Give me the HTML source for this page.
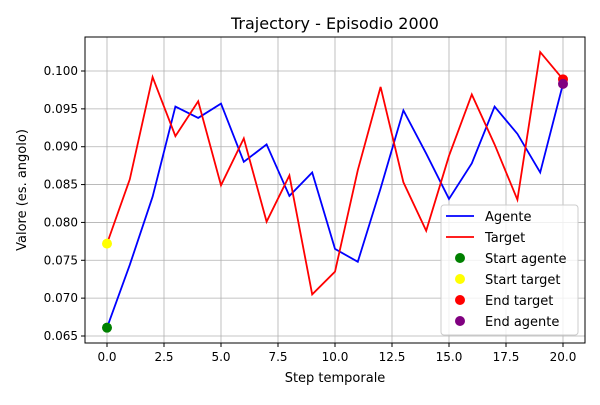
<!DOCTYPE html>
<html><head><meta charset="utf-8"><style>
body{margin:0;background:#fff}
svg{font-family:"DejaVu Sans","Liberation Sans",sans-serif}
</style></head><body>
<svg id="chart" width="600" height="400">
<text x="335" y="29" font-size="16" text-anchor="middle">Trajectory - Episodio 2000</text>
<g id="grid"></g>
<g id="series"></g>
<rect x="85" y="37" width="500" height="306" fill="none" stroke="#000" stroke-width="1"/>
<g id="ticks" font-size="12"></g>
<text x="335" y="382" font-size="13" text-anchor="middle">Step temporale</text>
<text transform="translate(26,190) rotate(-90)" font-size="13" text-anchor="middle">Valore (es. angolo)</text>
<g id="legend" font-size="13"></g>
</svg>
<script>
const steps=[0,1,2,3,4,5,6,7,8,9,10,11,12,13,14,15,16,17,18,19,20];
const agente=[0.0661,0.0744,0.0834,0.0953,0.0938,0.0957,0.0880,0.0903,0.0835,0.0866,0.0765,0.0748,0.0845,0.0948,0.0891,0.0831,0.0878,0.0953,0.0917,0.0866,0.0983];
const target=[0.0772,0.0857,0.0992,0.0914,0.0960,0.0849,0.0911,0.0801,0.0862,0.0705,0.0735,0.0869,0.0979,0.0853,0.0789,0.0888,0.0969,0.0903,0.0830,0.1025,0.0989];
const xTicks=[0,2.5,5,7.5,10,12.5,15,17.5,20];
const xTickLabels=["0.0","2.5","5.0","7.5","10.0","12.5","15.0","17.5","20.0"];
const yTicks=[0.065,0.070,0.075,0.080,0.085,0.090,0.095,0.100];
const yTickLabels=["0.065","0.070","0.075","0.080","0.085","0.090","0.095","0.100"];
const NS="http://www.w3.org/2000/svg";
const X=v=>107+v*22.8;
const Y=v=>336-(v-0.065)/0.005*37.857;
function mk(tag,attrs,parent){const e=document.createElementNS(NS,tag);for(const k in attrs)e.setAttribute(k,attrs[k]);parent.appendChild(e);return e;}
const grid=document.getElementById('grid'),ticks=document.getElementById('ticks'),series=document.getElementById('series'),legend=document.getElementById('legend');
xTicks.forEach((t,i)=>{
 const g=mk('line',{x1:X(t),x2:X(t),y1:37,y2:343,stroke:'#b0b0b0','stroke-width':0.8},grid);
 
 
 mk('line',{x1:X(t),x2:X(t),y1:343,y2:347,stroke:'#000'},ticks);
 const tx=mk('text',{x:X(t),y:361,'text-anchor':'middle'},ticks);tx.textContent=xTickLabels[i];
 
 
});
yTicks.forEach((t,i)=>{
 const g=mk('line',{x1:85,x2:585,y1:Y(t),y2:Y(t),stroke:'#b0b0b0','stroke-width':0.8},grid);
 
 
 mk('line',{x1:81,x2:85,y1:Y(t),y2:Y(t),stroke:'#000'},ticks);
 const tx=mk('text',{x:78,y:Y(t)+4,'text-anchor':'end'},ticks);tx.textContent=yTickLabels[i];
 
 
});
const pa=mk('polyline',{points:steps.map((s,i)=>X(s)+','+Y(agente[i])).join(' '),fill:'none',stroke:'#0000ff','stroke-width':1.8},series);


const pt=mk('polyline',{points:steps.map((s,i)=>X(s)+','+Y(target[i])).join(' '),fill:'none',stroke:'#ff0000','stroke-width':1.8},series);


const last=steps.length-1;
const dots=[['start-agente-point',steps[0],agente[0],'green'],['start-target-point',steps[0],target[0],'yellow'],['end-target-point',steps[last],target[last],'red'],['end-agente-point',steps[last],agente[last],'purple']];
dots.forEach(d=>{const c=mk('circle',{cx:X(d[1]),cy:Y(d[2]),r:5,fill:d[3]},series);
 
 });
const lb=mk('rect',{x:441,y:205,width:137,height:130,rx:3,fill:'#fff','fill-opacity':0.8,stroke:'#ccc'},legend);


const entries=[['Agente','line','#0000ff'],['Target','line','#ff0000'],['Start agente','dot','green'],['Start target','dot','yellow'],['End target','dot','red'],['End agente','dot','purple']];
entries.forEach((e,i)=>{const y=216+i*21;
 if(e[1]==='line')mk('line',{x1:446,x2:474,y1:y,y2:y,stroke:e[2],'stroke-width':1.8},legend);
 else mk('circle',{cx:460,cy:y,r:5,fill:e[2]},legend);
 const t=mk('text',{x:485,y:y+5},legend);t.textContent=e[0];
 
 });
</script>
</body></html>
